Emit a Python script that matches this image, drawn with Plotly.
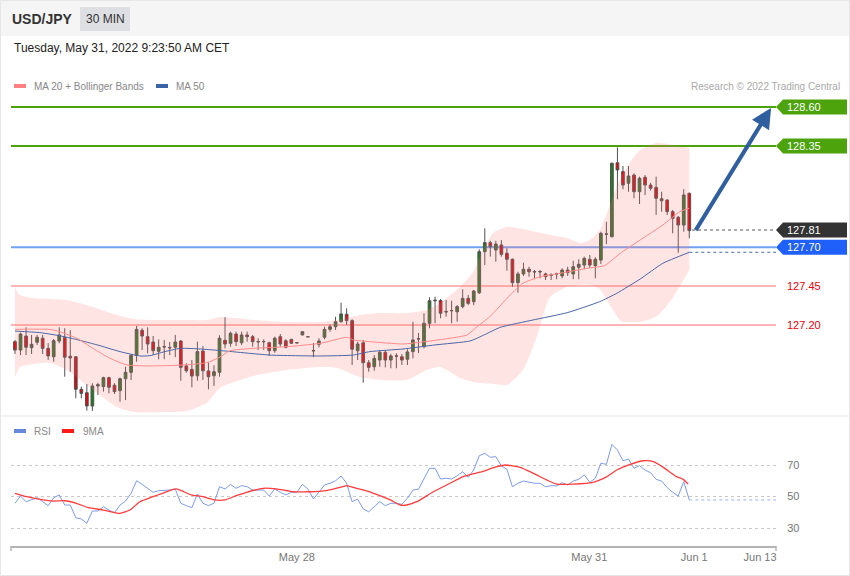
import plotly.graph_objects as go

W, H = 850, 576

# ---------------- data (USD/JPY, 30 min candles) ----------------
OPEN = [127.093,127.039,127.129,127.054,127.089,127.115,127.050,126.996,127.097,127.121,
        126.999,126.996,126.787,126.765,126.680,126.808,126.804,126.862,126.813,126.778,
        126.855,126.896,127.005,127.166,127.125,127.091,127.031,127.061,127.053,127.057,
        127.097,126.937,126.915,126.874,127.033,126.905,126.874,126.896,127.102,127.082,
        127.142,127.086,127.136,127.125,127.094,127.092,127.086,127.035,127.125,127.099,
        127.108,127.087,127.136,127.125,127.036,127.076,127.121,127.172,127.189,127.221,
        127.269,127.228,127.035,127.086,126.958,126.932,126.975,127.025,126.975,127.002,
        126.996,126.980,127.029,127.112,127.061,127.211,127.355,127.357,127.287,127.291,
        127.285,127.318,127.371,127.350,127.407,127.671,127.729,127.682,127.714,127.661,
        127.622,127.472,127.528,127.558,127.543,127.541,127.528,127.522,127.527,127.515,
        127.553,127.528,127.571,127.585,127.622,127.581,127.617,127.783,127.767,128.242,
        128.185,128.110,128.163,128.056,128.149,128.099,128.084,128.011,128.003,127.928,
        127.892,127.842,128.046]
HIGH = [127.104,127.151,127.185,127.136,127.136,127.136,127.084,127.110,127.185,127.179,
        127.168,127.001,126.804,126.821,126.826,126.829,126.868,126.868,126.826,126.862,
        126.932,127.014,127.194,127.179,127.185,127.129,127.108,127.104,127.091,127.136,
        127.104,126.954,126.975,127.093,127.065,126.958,126.941,127.134,127.250,127.157,
        127.157,127.157,127.157,127.136,127.115,127.108,127.093,127.125,127.142,127.108,
        127.110,127.088,127.159,127.126,127.084,127.115,127.189,127.204,127.253,127.343,
        127.307,127.237,127.093,127.104,126.975,127.007,127.039,127.035,127.014,127.018,
        127.014,127.044,127.221,127.149,127.275,127.378,127.382,127.367,127.361,127.356,
        127.328,127.429,127.393,127.425,127.686,127.821,127.741,127.741,127.746,127.693,
        127.628,127.542,127.600,127.574,127.553,127.553,127.536,127.532,127.536,127.564,
        127.574,127.613,127.622,127.639,127.650,127.635,127.799,127.863,128.242,128.341,
        128.221,128.221,128.174,128.153,128.163,128.114,128.153,128.056,128.007,127.939,
        127.900,128.072,128.050]
LOW = [127.014,127.007,127.007,127.014,127.072,127.014,126.975,126.964,127.082,126.868,
       126.900,126.729,126.729,126.650,126.648,126.750,126.772,126.761,126.757,126.707,
       126.718,126.847,126.964,127.039,127.018,127.007,126.980,126.980,127.007,126.993,
       126.842,126.894,126.800,126.842,126.847,126.787,126.808,126.868,127.050,127.061,
       127.065,127.072,127.093,127.061,127.039,127.039,127.001,127.022,127.061,127.050,
       127.080,127.084,127.134,127.123,126.993,127.057,127.108,127.157,127.168,127.215,
       127.200,126.943,126.975,126.829,126.900,126.906,126.932,126.928,126.922,126.922,
       126.943,126.943,126.986,127.020,127.050,127.179,127.211,127.243,127.253,127.211,
       127.221,127.307,127.328,127.328,127.399,127.585,127.639,127.607,127.639,127.549,
       127.446,127.407,127.515,127.510,127.494,127.500,127.489,127.489,127.494,127.500,
       127.515,127.494,127.494,127.558,127.566,127.500,127.592,127.720,127.763,128.007,
       128.072,128.056,128.014,127.977,128.035,128.063,127.907,127.928,127.907,127.789,
       127.664,127.799,127.757]
CLOSE = [127.039,127.142,127.057,127.076,127.121,127.050,127.001,127.099,127.136,126.993,
         126.988,126.787,126.761,126.680,126.808,126.817,126.862,126.800,126.772,126.855,
         126.896,127.005,127.172,127.129,127.078,127.035,127.057,127.059,127.055,127.091,
         126.928,126.906,126.872,127.029,126.906,126.868,126.900,127.115,127.078,127.147,
         127.093,127.136,127.125,127.093,127.092,127.094,127.035,127.115,127.078,127.057,
         127.082,127.085,127.157,127.124,127.034,127.097,127.172,127.189,127.221,127.271,
         127.228,127.044,127.078,126.958,126.928,126.986,127.025,126.975,127.001,127.000,
         126.975,127.027,127.104,127.110,127.211,127.356,127.359,127.275,127.284,127.293,
         127.318,127.371,127.339,127.418,127.671,127.729,127.703,127.720,127.654,127.622,
         127.472,127.528,127.558,127.542,127.541,127.543,127.510,127.520,127.529,127.553,
         127.536,127.574,127.590,127.628,127.585,127.622,127.789,127.785,128.239,128.196,
         128.099,128.157,128.056,128.142,128.099,128.078,128.014,127.998,127.928,127.885,
         127.842,128.035,127.806]
BAR = list(range(len(CLOSE)))

# moving averages and Bollinger band, read at sample bars
MA20_X = [0,6.3,8.1,11.2,14.1,17.2,20.3,24.4,30.4,34.7,37.1,38.9,43.1,49.2,55.2,60.1,61.2,64.2,
          70.2,74.2,78.7,81.8,83.6,85.9,89.6,91.9,95,98.6,103.5,106.7,109.5,113.1,117.2,120.3,122]
MA20 = [127.172,127.172,127.157,127.115,127.050,126.986,126.943,126.937,126.943,126.958,126.994,
        127.035,127.050,127.061,127.082,127.121,127.104,127.093,127.078,127.093,127.115,127.136,
        127.189,127.253,127.393,127.468,127.510,127.532,127.564,127.582,127.660,127.746,127.842,
        127.928,127.950]
MA50_X = [0,4.5,8.1,11,15.4,19,22.6,24.4,27.1,29.9,33.5,37.1,46.1,55.2,61.2,64.2,70.2,76,82.3,
          84.1,87.8,93.7,99.9,105.8,108.9,113.1,117.2,122]
MA50 = [127.161,127.151,127.131,127.108,127.067,127.029,127.001,127.003,127.029,127.050,127.046,
        127.036,127.007,127.001,127.007,127.029,127.046,127.072,127.097,127.123,127.185,127.232,
        127.279,127.350,127.404,127.495,127.596,127.667]
BB_X = [0,0.9,3.3,6.3,9.4,14.1,18.5,21.3,27.5,31.1,34.7,37.1,43.1,49.2,55.2,58.3,62.4,66.0,70.9,
        74.5,76.9,80.5,82.9,84.1,86.5,89.0,91.9,94.4,96.8,99.9,102.2,104.0,105.8,108.2,109.8,
        110.7,113.1,116.2,119.1,122]
BB_UPPER = [127.438,127.393,127.373,127.367,127.361,127.316,127.264,127.239,127.232,127.232,
            127.232,127.251,127.232,127.219,127.219,127.232,127.264,127.277,127.277,127.296,
            127.341,127.444,127.540,127.637,127.791,127.829,127.817,127.797,127.778,127.759,
            127.727,127.746,127.810,128.022,128.163,128.215,128.324,128.369,128.356,128.337]
BB_LOWER = [126.866,126.930,126.950,126.956,126.911,126.783,126.673,126.641,126.641,126.648,
            126.699,126.795,126.872,126.911,126.930,126.924,126.866,126.847,126.847,126.911,
            126.930,126.860,126.834,126.827,126.821,126.815,126.911,127.123,127.380,127.444,
            127.457,127.457,127.431,127.296,127.219,127.219,127.219,127.258,127.380,127.553]

RSI = [45.7,50.3,46.7,47.8,49.2,46.7,44.2,49.2,51.0,44.6,44.6,36.5,35.7,33.0,40.8,40.8,43.5,41.4,
       39.7,44.6,47.1,52.0,60.0,57.7,55.2,52.7,53.7,53.9,54.1,54.8,45.7,44.2,42.9,51.6,45.7,44.2,
       45.7,56.2,54.8,57.7,55.2,56.9,56.2,54.1,54.1,54.1,50.3,54.8,52.7,51.0,52.7,52.7,57.7,54.8,
       48.4,53.0,57.3,58.4,60.0,63.0,58.4,46.7,48.4,42.1,40.3,43.5,46.7,44.2,45.7,45.7,45.0,48.9,
       54.1,54.6,61.6,67.9,67.9,61.1,61.6,61.1,63.2,65.7,62.2,66.8,75.9,77.4,74.9,75.3,69.4,67.3,
       56.2,58.4,59.8,59.0,58.4,58.4,56.2,56.9,56.7,58.8,57.3,59.8,60.9,63.7,59.0,61.6,71.1,70.4,
       83.1,79.5,72.7,73.8,67.9,69.6,66.8,65.1,60.9,59.8,55.6,52.7,50.3,59.4,47.8]
MA9_X = [0,2.1,5.1,6.9,9,11.1,13.3,16,19,20.8,22.6,25,27.4,29.2,31.9,34,36.1,38,40,41.9,44.9,47.3,
         50.3,53.3,56.3,59.3,60,61.8,63.6,66,67.9,69.7,70.9,72.7,75.7,78.7,81.1,84.1,87.2,88.7,
         91.4,93.8,96.2,98,101,104.6,107.1,108.9,111.3,113.7,115.5,117.3,119.7,120.9,121.8]
MA9 = [52.0,49.9,47.8,47.1,47.3,45.7,42.9,41.4,39.3,41.4,46.7,49.9,53.0,54.8,51.0,49.9,47.8,47.8,
       50.5,52.7,55.2,54.8,53.0,53.0,53.7,56.2,56.9,55.2,53.5,50.5,47.8,44.6,44.6,46.7,53.0,58.4,
       62.6,65.4,68.9,70.0,68.5,64.7,60.5,57.9,57.9,59.0,62.6,66.8,70.4,72.7,72.1,68.5,62.6,60.9,
       57.9]

RSI_LEVELS = [30, 50, 70]
TICK_POS = [51.0, 103.9, 122.9, 134.8]
TICK_TEXT = ["May 28", "May 31", "Jun 1", "Jun 13"]

RESIST = [128.60, 128.35]
SUPPORT = [127.45, 127.20]
PIVOT = 127.70
LAST = 127.81
TARGET = (136.8, 128.594)
ARROW_START = (123.0, 127.80)

# ---------------- geometry ----------------
X_RANGE = [-0.724, 137.69]
PX_PER_PRICE = 155.7
PRICE_TOP_PX, PRICE_BOT_PX = 95, 415
Y2_RANGE = [127.20 - (PRICE_BOT_PX - 325) / PX_PER_PRICE, 127.20 + (325 - PRICE_TOP_PX) / PX_PER_PRICE]
RSI_RANGE = [18.57, 98.57]
XD = [11 / W, 776 / W]

def py(y):
    return 1 - y / H

FONT = "Liberation Sans, Arial, sans-serif"

fig = go.Figure()

# Bollinger band
fig.add_trace(go.Scatter(x=BB_X, y=BB_UPPER, mode="lines", line=dict(width=0, shape="spline", smoothing=0.6),
                         xaxis="x2", yaxis="y2", hoverinfo="skip", showlegend=False))
fig.add_trace(go.Scatter(x=BB_X, y=BB_LOWER, mode="lines", line=dict(width=0, shape="spline", smoothing=0.6),
                         fill="tonexty", fillcolor="rgba(255,120,120,0.2)",
                         xaxis="x2", yaxis="y2", hoverinfo="skip", showlegend=False))
fig.add_trace(go.Scatter(x=MA50_X, y=MA50, mode="lines", line=dict(width=1, color="#4a66a6", shape="spline", smoothing=0.5),
                         xaxis="x2", yaxis="y2", showlegend=False))
fig.add_trace(go.Scatter(x=MA20_X, y=MA20, mode="lines", line=dict(width=1, color="#ff8a8a", shape="spline", smoothing=0.5),
                         xaxis="x2", yaxis="y2", showlegend=False))
fig.add_trace(go.Candlestick(x=BAR, open=OPEN, high=HIGH, low=LOW, close=CLOSE,
                             increasing=dict(fillcolor="#1f7d1f", line=dict(color="#505050", width=1)),
                             decreasing=dict(fillcolor="#e8000a", line=dict(color="#505050", width=1)),
                             whiskerwidth=0, xaxis="x2", yaxis="y2", showlegend=False))
# dotted extensions
fig.add_trace(go.Scatter(x=[BAR[-1] + 0.5, X_RANGE[1]], y=[LAST, LAST], mode="lines",
                         line=dict(width=1, color="#555555", dash="dot"), xaxis="x2", yaxis="y2", showlegend=False))
fig.add_trace(go.Scatter(x=[MA50_X[-1], X_RANGE[1]], y=[MA50[-1], MA50[-1]], mode="lines",
                         line=dict(width=1, color="#4a66a6", dash="dot"), xaxis="x2", yaxis="y2", showlegend=False))

# RSI panel
fig.add_trace(go.Scatter(x=BAR, y=RSI, mode="lines", line=dict(width=1, color="#7d9be6"),
                         xaxis="x", yaxis="y", showlegend=False))
fig.add_trace(go.Scatter(x=[BAR[-1], X_RANGE[1]], y=[RSI[-1], RSI[-1]], mode="lines",
                         line=dict(width=1, color="#9db3ee", dash="dot"), xaxis="x", yaxis="y", showlegend=False))
fig.add_trace(go.Scatter(x=MA9_X, y=MA9, mode="lines", line=dict(width=1.3, color="#ff3b3b", shape="spline", smoothing=0.5),
                         xaxis="x", yaxis="y", showlegend=False))

shapes = []
annotations = []

# header & frame
shapes.append(dict(type="rect", xref="paper", yref="paper", x0=0, x1=1, y0=py(36), y1=1,
                   fillcolor="#f5f5f5", line=dict(width=0), layer="below"))
shapes.append(dict(type="rect", xref="paper", yref="paper", x0=80 / W, x1=130 / W, y0=py(31), y1=py(7),
                   fillcolor="#dddfe2", line=dict(width=0), layer="below"))
shapes.append(dict(type="rect", xref="paper", yref="paper", x0=0.5 / W, x1=849.5 / W, y0=py(575.5), y1=py(0.5),
                   line=dict(width=1, color="#e6e6e6")))
shapes.append(dict(type="line", xref="paper", yref="paper", x0=0, x1=1, y0=py(416), y1=py(416),
                   line=dict(width=1, color="#e6e6e6")))
# axis end ticks
for xp in (11, 776):
    shapes.append(dict(type="line", xref="paper", yref="paper", x0=xp / W, x1=xp / W, y0=py(546), y1=py(551),
                       line=dict(width=1.5, color="#b4b4b4")))

# level lines
for lv in RESIST:
    shapes.append(dict(type="line", xref="paper", yref="y2", x0=XD[0], x1=XD[1], y0=lv, y1=lv,
                       line=dict(width=2, color="#4ca30c"), layer="below"))
for lv in SUPPORT:
    shapes.append(dict(type="line", xref="paper", yref="y2", x0=XD[0], x1=XD[1], y0=lv, y1=lv,
                       line=dict(width=1.5, color="#ff9c9c"), layer="below"))
shapes.append(dict(type="line", xref="paper", yref="y2", x0=XD[0], x1=XD[1], y0=PIVOT, y1=PIVOT,
                   line=dict(width=2, color="#719ff2"), layer="below"))

HALF = 7.5 / PX_PER_PRICE

def tag(price, color):
    path = (f"M {776 / W},{price} L {783 / W},{price + HALF} L {847 / W},{price + HALF} "
            f"L {847 / W},{price - HALF} L {783 / W},{price - HALF} Z")
    shapes.append(dict(type="path", xref="paper", yref="y2", path=path, fillcolor=color, line=dict(width=0)))
    annotations.append(dict(xref="paper", yref="y2", x=785 / W, y=price, text=f"{price:.2f}", showarrow=False,
                            xanchor="left", yanchor="middle", font=dict(family=FONT, size=11, color="white")))

for lv in RESIST:
    tag(lv, "#4ca30c")
tag(LAST, "#333333")
tag(PIVOT, "#1f5ffa")
for lv in SUPPORT:
    annotations.append(dict(xref="paper", yref="y2", x=785 / W, y=lv, text=f"{lv:.2f}", showarrow=False,
                            xanchor="left", yanchor="middle", font=dict(family=FONT, size=11, color="#e8000a")))

# target arrow
annotations.append(dict(x=TARGET[0], y=TARGET[1], ax=ARROW_START[0], ay=ARROW_START[1], xref="x2", yref="y2",
                        axref="x2", ayref="y2", showarrow=True, arrowhead=2, arrowsize=1, arrowwidth=4,
                        arrowcolor="#2f5f9f", text=""))

# header texts
def txt(x, y, s, size, color, anchor="left", bold=False):
    annotations.append(dict(xref="paper", yref="paper", x=x / W, y=py(y), text=(f"<b>{s}</b>" if bold else s),
                            showarrow=False, xanchor=anchor, yanchor="middle",
                            font=dict(family=FONT, size=size, color=color)))

txt(10, 19, "USD/JPY", 14, "#333333", bold=True)
txt(105, 19, "30 MIN", 12, "#333333", anchor="center")
txt(12, 48, "Tuesday, May 31, 2022 9:23:50 AM CET", 12, "#222222")
txt(32, 86, "MA 20 + Bollinger Bands", 10, "#888888")
txt(174, 86, "MA 50", 10, "#888888")
txt(842, 86, "Research © 2022 Trading Central", 10, "#aaaaaa", anchor="right")
txt(32, 431, "RSI", 10, "#888888")
txt(81, 431, "9MA", 10, "#888888")

for (x0, x1, y, col) in [(14, 26, 86, "#ff8080"), (156, 168, 86, "#3a62a6"),
                         (14, 26, 431, "#6688e0"), (62, 74, 431, "#ff1a1a")]:
    shapes.append(dict(type="rect", xref="paper", yref="paper", x0=x0 / W, x1=x1 / W, y0=py(y + 2), y1=py(y - 2),
                       fillcolor=col, line=dict(width=0)))

fig.update_layout(
    width=W, height=H, margin=dict(l=0, r=0, t=0, b=0),
    paper_bgcolor="white", plot_bgcolor="rgba(0,0,0,0)",
    showlegend=False, hovermode=False,
    font=dict(family=FONT),
    xaxis=dict(domain=XD, range=X_RANGE, anchor="y", showline=True, linecolor="#b4b4b4", linewidth=2,
               showgrid=False, zeroline=False, ticks="", tickvals=TICK_POS, ticktext=TICK_TEXT,
               tickfont=dict(size=11, color="#777777")),
    yaxis=dict(domain=[py(546), py(420)], range=RSI_RANGE, anchor="x", side="right", tickvals=RSI_LEVELS,
               showgrid=True, gridcolor="#c8c8c8", griddash="dot", gridwidth=1, zeroline=False, showline=False,
               ticks="outside", ticklen=8, tickcolor="rgba(0,0,0,0)", tickfont=dict(size=11, color="#777777")),
    xaxis2=dict(domain=XD, range=X_RANGE, anchor="y2", visible=False, rangeslider=dict(visible=False)),
    yaxis2=dict(domain=[py(PRICE_BOT_PX), py(PRICE_TOP_PX)], range=Y2_RANGE, anchor="x2", visible=False),
    shapes=shapes, annotations=annotations,
)

fig.write_html("out.html", config={"displayModeBar": False},
               post_script="document.body.style.margin='0';document.body.style.padding='0';")
